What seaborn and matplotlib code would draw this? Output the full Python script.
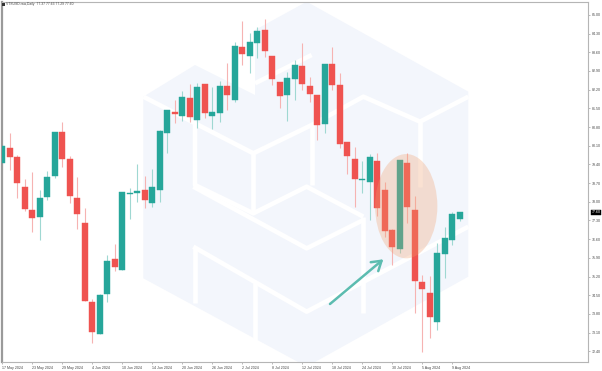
import numpy as np
import pandas as pd
import seaborn as sns
import matplotlib
matplotlib.use("Agg")
import matplotlib.pyplot as plt
from matplotlib.patches import Ellipse, Polygon, Rectangle
from matplotlib.lines import Line2D
import matplotlib.transforms as mtransforms

# ---------------- data (daily candles, 17 May 2024 .. 12 Aug 2024, weekdays) -------------
opens = [79.47, 80.01, 79.67, 78.57, 77.70, 77.42, 78.17, 78.95, 80.61, 79.61,
         78.16, 77.20, 74.24, 73.05, 74.54, 75.86, 75.45, 78.28, 78.32, 78.45,
         77.97, 78.45, 80.59, 81.36, 81.22, 81.90, 81.07, 82.40, 81.23, 81.34,
         82.34, 81.82, 83.78, 83.46, 83.94, 84.44, 83.46, 82.50, 82.00, 82.60,
         83.09, 82.34, 82.00, 80.90, 83.15, 82.38, 80.23, 79.59, 78.80, 78.76,
         79.54, 78.45, 76.95, 76.22, 79.47, 77.70, 74.98, 74.60, 73.48, 76.05,
         76.57, 77.37]
highs = [80.19, 80.59, 79.76, 78.86, 79.11, 78.45, 79.16, 80.63, 80.98, 79.70,
         78.92, 77.76, 74.35, 74.53, 75.99, 76.42, 78.37, 78.51, 79.42, 78.97,
         79.22, 80.68, 81.45, 81.82, 82.15, 82.42, 82.45, 82.40, 82.30, 82.53,
         83.21, 84.00, 84.78, 84.32, 84.56, 84.86, 83.46, 82.50, 82.88, 83.32,
         83.95, 82.69, 82.00, 83.15, 83.79, 82.84, 80.23, 80.05, 79.53, 79.80,
         79.83, 78.76, 77.00, 79.57, 79.81, 78.20, 75.26, 75.22, 76.47, 77.07,
         77.63, 77.63]
lows = [79.19, 79.20, 78.13, 77.65, 76.86, 76.57, 78.07, 78.88, 79.32, 77.95,
        76.97, 74.28, 72.70, 73.03, 74.26, 75.39, 75.43, 77.36, 78.01, 77.76,
        77.82, 78.01, 79.82, 80.94, 81.03, 81.00, 80.78, 81.13, 80.72, 81.00,
        81.44, 81.75, 83.13, 82.83, 83.38, 83.44, 82.38, 81.50, 81.02, 81.83,
        82.19, 81.75, 80.32, 80.57, 82.19, 80.01, 79.05, 77.80, 78.32, 77.32,
        77.45, 76.67, 75.64, 76.10, 77.20, 73.83, 72.39, 72.89, 73.20, 75.16,
        76.39, 77.29]
closes = [80.09, 79.67, 78.70, 77.72, 77.39, 78.16, 78.92, 80.61, 79.61, 78.20,
          77.55, 74.30, 73.14, 74.51, 75.80, 75.57, 78.36, 78.31, 78.42, 78.05,
          78.55, 80.67, 81.44, 81.29, 81.92, 81.19, 82.31, 81.34, 81.38, 82.34,
          82.00, 83.83, 83.53, 84.00, 84.41, 83.65, 82.59, 81.96, 82.65, 83.13,
          82.42, 82.04, 80.87, 83.15, 82.38, 80.17, 79.73, 78.85, 78.85, 79.68,
          77.76, 76.92, 76.32, 79.57, 77.81, 75.05, 74.73, 73.68, 76.07, 76.64,
          77.55, 77.60]
date_labels = ["17 May 2024", "23 May 2024", "29 May 2024", "4 Jun 2024",
               "10 Jun 2024", "14 Jun 2024", "20 Jun 2024", "26 Jun 2024",
               "2 Jul 2024", "8 Jul 2024", "12 Jul 2024", "18 Jul 2024",
               "24 Jul 2024", "30 Jul 2024", "5 Aug 2024", "9 Aug 2024"]
price_ticks = [72.40, 73.10, 73.80, 74.50, 75.20, 75.90, 76.60, 77.30, 78.00,
               78.70, 79.40, 80.10, 80.80, 81.50, 82.20, 82.90, 83.60, 84.30, 85.00]
header = "VTSUSD.raw,Daily  77.37 77.63 77.29 77.60"
last_price = 77.60

# ---------------- style -------------
sns.set_theme(style="white")
plt.rcParams["font.family"] = ["Liberation Sans", "DejaVu Sans"]

UP = "#26a69a"
DOWN = "#ef5350"
UP_WICK = "#9fd8d2"
DOWN_WICK = "#f6b3b2"

df = pd.DataFrame({"open": opens, "high": highs, "low": lows, "close": closes})
df["x"] = np.arange(len(df))
df["up"] = df["close"] >= df["open"]

W, H = 602, 371
fig = plt.figure(figsize=(W / 100, H / 100), dpi=100)
fig.patch.set_facecolor("white")
ax = fig.add_axes([2 / W, 9 / H, 586 / W, 360 / H])
ax.set_facecolor("white")

# ---- watermark (decorative, pixel-based) ----
def px(x, y):
    return ((x - 2) / 586, (362 - y) / 360)

def z(sx, sy):
    return px(130 + sx / 3, sy / 3)

pale = "#f3f6fc"
hexa = [z(40, 290), z(195, 195), z(375, 285), z(375, 90), z(530, 5),
        z(1015, 275), z(1015, 830), z(530, 1100), z(40, 835)]
ax.add_patch(Polygon(hexa, closed=True, transform=ax.transAxes,
                     facecolor=pale, edgecolor="none", zorder=0.5))
white_lines = [
    [(40, 290), (370, 460), (545, 375), (700, 290), (870, 365), (1015, 290)],
    [(195, 375), (195, 555), (370, 640), (530, 560), (700, 650)],
    [(370, 460), (370, 640)],
    [(545, 375), (545, 555)],
    [(870, 365), (870, 560)],
    [(190, 560), (530, 745), (700, 660)],
    [(190, 740), (530, 935), (1015, 680)],
    [(195, 740), (195, 910)],
    [(375, 850), (375, 1040)],
    [(700, 650), (700, 940)],
    [(375, 250), (545, 165)],
]
for seg in white_lines:
    pts = [z(a, b) for a, b in seg]
    ax.add_line(Line2D([p[0] for p in pts], [p[1] for p in pts],
                       transform=ax.transAxes, color="white", lw=3.3,
                       solid_capstyle="butt", zorder=0.6))

# ---- candles ----
wick_cols = np.where(df["up"], UP_WICK, DOWN_WICK)
body_cols = np.where(df["up"], UP, DOWN)
ax.vlines(df["x"], df["low"], df["high"], colors=wick_cols, lw=0.8, zorder=2)
body_bottom = np.minimum(df["open"], df["close"])
body_h = np.maximum(np.abs(df["close"] - df["open"]), 0.04)
ax.bar(df["x"], body_h, bottom=body_bottom, width=0.8, color=body_cols,
       edgecolor=body_cols, linewidth=0.3, zorder=3)

ax.set_xlim(-0.05, -0.05 + 586 / 7.5)
ax.set_ylim(72.0, 72.0 + 360 / 26.7)

# ---- annotations ----
ax.add_patch(Ellipse((0.6898, 0.4328), 0.1063, 0.2897, transform=ax.transAxes,
                     facecolor=(0.94, 0.62, 0.42), alpha=0.30, edgecolor="none",
                     zorder=4))
ax.annotate("", xy=(0.6507, 0.2853), xytext=(0.5597, 0.1611),
            xycoords="axes fraction", textcoords="axes fraction",
            arrowprops=dict(arrowstyle="->,head_length=0.55,head_width=0.35",
                            color="#5cbcb0", lw=1.8, shrinkA=0, shrinkB=0),
            zorder=5)

# ---- axes ----
ax.yaxis.tick_right()
ax.set_yticks(price_ticks)
ax.set_yticklabels([f"{v:.2f}" for v in price_ticks])
ax.tick_params(axis="y", which="both", right=True, left=False, length=1.5,
               width=0.4, pad=1.2, labelsize=2.6, labelcolor="#444444",
               color="#888888")
ax.set_xticks(np.arange(0, len(date_labels) * 4, 4))
ax.set_xticklabels(date_labels)
ax.tick_params(axis="x", which="both", bottom=True, length=1.5, width=0.4,
               pad=1.2, labelsize=2.6, labelcolor="#444444", color="#888888")
for lab in ax.get_xticklabels():
    lab.set_horizontalalignment("left")

for side in ["top", "right", "bottom"]:
    ax.spines[side].set_color("#b5b5b5")
    ax.spines[side].set_linewidth(0.8)
ax.spines["left"].set_color("#9a9a9a")
ax.spines["left"].set_linewidth(1.6)

# current price tag
trans = mtransforms.blended_transform_factory(ax.transAxes, ax.transData)
ax.text(1.006, last_price, f"{last_price:.2f}", transform=trans, ha="left",
        va="center", fontsize=2.6, color="white", clip_on=False,
        bbox=dict(boxstyle="square,pad=0.2", fc="black", ec="black", lw=0.3))

# header
fig.add_artist(Rectangle((2 / W, 1 - 5.5 / H), 2.5 / W, 2.5 / H,
                         transform=fig.transFigure, facecolor="#333333",
                         edgecolor="none"))
fig.text(6.5 / W, 1 - 4.3 / H, header, fontsize=2.4, color="#444444",
         ha="left", va="center")

fig.savefig("out.png", dpi=100)
